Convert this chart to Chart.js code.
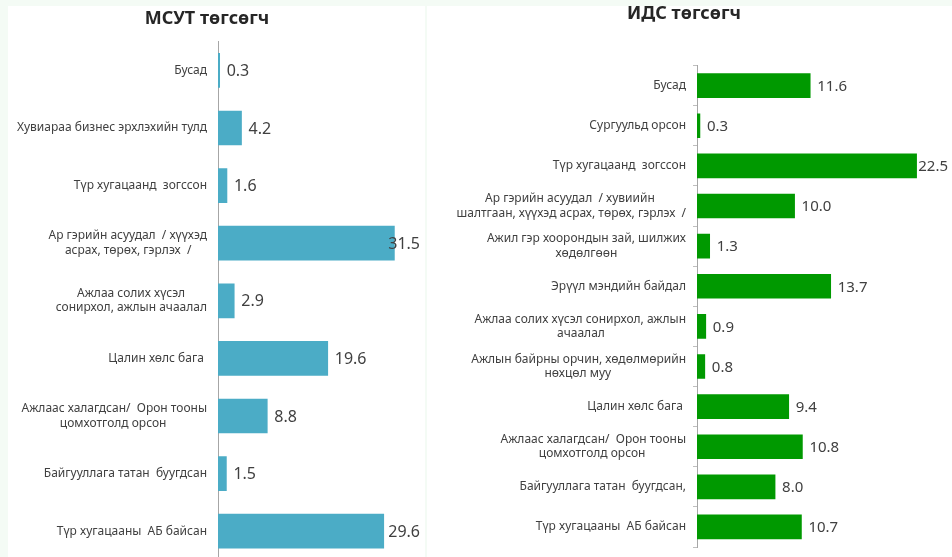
<!DOCTYPE html>
<html>
<head>
<meta charset="utf-8">
<script src="https://cdn.jsdelivr.net/npm/chart.js@4.4.1/dist/chart.umd.min.js"></script>
<style>
  body { margin: 0; width: 952px; height: 557px; overflow: hidden; background: #f4fbf5; position: relative; }
  .panel { position: absolute; background: #fff; }
  .box { position: absolute; top: 0; height: 580px; }
</style>
</head>
<body>
<div class="panel" style="left:8px;top:6px;width:417px;height:551px"></div>
<div class="panel" style="left:427px;top:6px;width:525px;height:551px"></div>
<div class="box" style="left:0;width:428px"><canvas id="msutChart"></canvas></div>
<div class="box" style="left:427px;width:525px"><canvas id="idsChart"></canvas></div>

<script>
// МСУТ төгсөгч
const msutLabels = [
    'Бусад',
    'Хувиараа бизнес эрхлэхийн тулд',
    'Түр хугацаанд  зогссон',
    ['Ар гэрийн асуудал  / хүүхэд', 'асрах, төрөх, гэрлэх  /'],
    ['Ажлаа солих хүсэл', 'сонирхол, ажлын ачаалал'],
    'Цалин хөлс бага ',
    ['Ажлаас халагдсан/  Орон тооны', 'цомхотголд орсон'],
    'Байгууллага татан  буугдсан',
    'Түр хугацааны  АБ байсан'
];
const msutValues = [0.3, 4.2, 1.6, 31.5, 2.9, 19.6, 8.8, 1.5, 29.6];

// ИДС төгсөгч
const idsLabels = [
    'Бусад',
    'Сургуульд орсон',
    'Түр хугацаанд  зогссон',
    ['Ар гэрийн асуудал  / хувиийн', 'шалтгаан, хүүхэд асрах, төрөх, гэрлэх  /'],
    ['Ажил гэр хоорондын зай, шилжих', 'хөдөлгөөн'],
    'Эрүүл мэндийн байдал',
    ['Ажлаа солих хүсэл сонирхол, ажлын', 'ачаалал'],
    ['Ажлын байрны орчин, хөдөлмөрийн', 'нөхцөл муу'],
    'Цалин хөлс бага ',
    ['Ажлаас халагдсан/  Орон тооны', 'цомхотголд орсон'],
    'Байгууллага татан  буугдсан,',
    'Түр хугацааны  АБ байсан'
];
const idsValues = [11.6, 0.3, 22.5, 10.0, 1.3, 13.7, 0.9, 0.8, 9.4, 10.8, 8.0, 10.7];

const labelFont = { family: '"Noto Sans", sans-serif', size: 12, lineHeight: 1.2 };

// олон мөртэй шошгыг голлуулах (богино мөрийн ард зай нэмнэ)
const measureCtx = document.createElement('canvas').getContext('2d');
measureCtx.font = '12px "Noto Sans"';
function centerLines(label) {
    if (!Array.isArray(label)) return label;
    const widths = label.map(l => measureCtx.measureText(l).width);
    const maxW = Math.max(...widths);
    const sp = measureCtx.measureText('\u00A0').width;
    return label.map((l, i) => l + '\u00A0'.repeat(Math.round((maxW - widths[i]) / 2 / sp)));
}

// баганын ард утгыг бичих
const valueLabels = {
    id: 'valueLabels',
    afterDatasetsDraw(chart, args, opts) {
        const ctx = chart.ctx;
        const meta = chart.getDatasetMeta(0);
        ctx.save();
        ctx.font = opts.size + 'px "Noto Sans"';
        ctx.fillStyle = '#404040';
        ctx.textBaseline = 'middle';
        ctx.textAlign = 'left';
        meta.data.forEach((bar, i) => {
            const txt = chart.data.datasets[0].data[i].toFixed(1);
            const w = ctx.measureText(txt).width;
            const x = Math.min(bar.x + 7, opts.maxRight - w);
            ctx.fillText(txt, x, bar.y + 1);
        });
        ctx.restore();
    }
};

function makeChart(id, title, labels, values, color, cfg) {
    return new Chart(document.getElementById(id), {
        type: 'bar',
        data: {
            labels: labels.map(centerLines),
            datasets: [{
                data: values,
                backgroundColor: color,
                borderWidth: 0,
                barThickness: cfg.barThickness,
                categoryPercentage: 1
            }]
        },
        options: {
            indexAxis: 'y',
            responsive: true,
            maintainAspectRatio: false,
            animation: false,
            events: [],
            layout: { padding: cfg.padding },
            scales: {
                x: { display: false, min: 0, max: cfg.xMax },
                y: {
                    afterFit: scale => { scale.width = cfg.axisWidth; },
                    grid: {
                        display: true,
                        drawOnChartArea: false,
                        drawTicks: true,
                        tickLength: cfg.tickLength,
                        color: cfg.tickColor
                    },
                    border: { display: true, color: '#a6a6a6', width: 1 },
                    ticks: { color: '#404040', font: labelFont, padding: cfg.tickPadding, autoSkip: false }
                }
            },
            plugins: {
                legend: { display: false },
                tooltip: { enabled: false },
                title: {
                    display: true,
                    text: title,
                    color: '#262626',
                    font: { family: '"Noto Sans", sans-serif', size: 18, weight: 'bold', lineHeight: 1.2 },
                    padding: cfg.titlePadding
                },
                valueLabels: { size: cfg.valueSize, maxRight: cfg.maxRight }
            }
        },
        plugins: [valueLabels]
    });
}

makeChart('msutChart', 'МСУТ төгсөгч', msutLabels, msutValues, '#4bacc6', {
    barThickness: 34,
    padding: { left: 0, right: 14, top: 0, bottom: 20 },
    titlePadding: { top: 8, bottom: 12 },
    xMax: 35,
    axisWidth: 218,
    tickLength: 9,
    tickColor: 'rgba(0,0,0,0)',
    tickPadding: 2,
    valueSize: 16,
    maxRight: 420
});

makeChart('idsChart', 'ИДС төгсөгч', idsLabels, idsValues, '#009900', {
    barThickness: 24,
    padding: { left: 0, right: 11, top: 0, bottom: 33 },
    titlePadding: { top: 3, bottom: 41 },
    xMax: 25,
    axisWidth: 270,
    tickLength: 4,
    tickColor: '#bfbfbf',
    tickPadding: 7,
    valueSize: 15,
    maxRight: 521
});
</script>
</body>
</html>
